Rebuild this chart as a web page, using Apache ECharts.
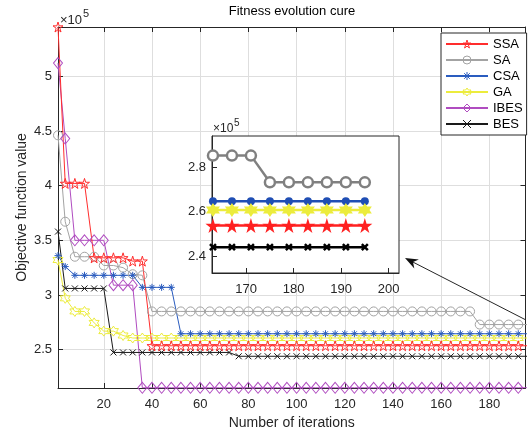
<!DOCTYPE html>
<html><head><meta charset="utf-8">
<script src="https://cdn.jsdelivr.net/npm/echarts@6/dist/echarts.min.js"></script>
<style>html,body{margin:0;padding:0;background:#fff}#c{width:530px;height:435px}</style>
</head><body><div id="c"></div>
<script>
// ---------- data (objective values in units of 1e5) ----------
const iterations = [1,4,8,12,16,20,24,28,32,36,
  40,44,48,52,56,60,64,68,72,76,
  80,84,88,92,96,100,104,108,112,116,
  120,124,128,132,136,140,144,148,152,156,
  160,164,168,172,176,180,184,188,192,196];
const ssa = [5.45,4.02,4.02,4.02,3.34,3.34,3.34,3.34,3.31,3.31,
  2.536,2.536,2.536,2.536,2.536,2.536,2.536,2.536,2.536,2.536,
  2.536,2.536,2.536,2.536,2.536,2.536,2.536,2.536,2.536,2.536,
  2.536,2.536,2.536,2.536,2.536,2.536,2.536,2.536,2.536,2.536,
  2.536,2.536,2.536,2.536,2.536,2.536,2.536,2.536,2.536,2.536];
const sa = [4.46,3.67,3.35,3.35,3.35,3.27,3.27,3.25,3.19,3.18,
  2.85,2.85,2.85,2.85,2.85,2.85,2.85,2.85,2.85,2.85,
  2.85,2.85,2.85,2.85,2.85,2.85,2.85,2.85,2.85,2.85,
  2.85,2.85,2.85,2.85,2.85,2.85,2.85,2.85,2.85,2.85,
  2.85,2.85,2.85,2.85,2.73,2.73,2.73,2.73,2.73,2.73];
const csa = [3.36,3.26,3.18,3.18,3.18,3.18,3.18,3.18,3.18,3.07,
  3.07,3.07,3.07,2.646,2.646,2.646,2.646,2.646,2.646,2.646,
  2.646,2.646,2.646,2.646,2.646,2.646,2.646,2.646,2.646,2.646,
  2.646,2.646,2.646,2.646,2.646,2.646,2.646,2.646,2.646,2.646,
  2.646,2.646,2.646,2.646,2.646,2.646,2.646,2.646,2.646,2.646];
const ga = [3.32,2.97,2.85,2.85,2.745,2.67,2.67,2.63,2.607,2.607,
  2.607,2.607,2.607,2.607,2.607,2.607,2.607,2.607,2.607,2.607,
  2.607,2.607,2.607,2.607,2.607,2.607,2.607,2.607,2.607,2.607,
  2.607,2.607,2.607,2.607,2.607,2.607,2.607,2.607,2.607,2.607,
  2.607,2.607,2.607,2.607,2.607,2.607,2.607,2.607,2.607,2.607];
const ibes = [5.12,4.43,3.50,3.50,3.50,3.50,3.09,3.09,3.09,2.152,
  2.152,2.152,2.152,2.152,2.152,2.152,2.152,2.152,2.152,2.152,
  2.152,2.152,2.152,2.152,2.152,2.152,2.152,2.152,2.152,2.152,
  2.152,2.152,2.152,2.152,2.152,2.152,2.152,2.152,2.152,2.152,
  2.152,2.152,2.152,2.152,2.152,2.152,2.152,2.152,2.152,2.152];
const bes = [3.58,3.06,3.06,3.06,3.06,3.06,2.475,2.475,2.475,2.475,
  2.475,2.475,2.475,2.475,2.475,2.475,2.475,2.475,2.475,2.44,
  2.44,2.44,2.44,2.44,2.44,2.44,2.44,2.44,2.44,2.44,
  2.44,2.44,2.44,2.44,2.44,2.44,2.44,2.44,2.44,2.44,
  2.44,2.44,2.44,2.44,2.44,2.44,2.44,2.44,2.44,2.44];

// inset (zoomed tail)
const zoomIterations = [163,167,171,175,179,183,187,191,195];
const zoomSA  = [2.851,2.851,2.851,2.731,2.731,2.731,2.731,2.731,2.731];
const zoomCSA = [2.646,2.646,2.646,2.646,2.646,2.646,2.646,2.646,2.646];
const zoomGA  = [2.607,2.607,2.607,2.607,2.607,2.607,2.607,2.607,2.607];
const zoomSSA = [2.537,2.537,2.537,2.537,2.537,2.537,2.537,2.537,2.537];
const zoomBES = [2.44,2.44,2.44,2.44,2.44,2.44,2.44,2.44,2.44];

const seriesNames = ['SSA','SA','CSA','GA','IBES','BES'];
const titleText = 'Fitness evolution cure';
const xName = 'Number of iterations';
const yName = 'Objective function value';

// ---------- styles ----------
const FONT = '"Liberation Sans", Arial, Helvetica, sans-serif';
const AX = '#262626';
const GRIDC = '#dedede';
const STAR = 'path://M50,0 L61,35 L98,35 L68,57 L79,91 L50,70 L21,91 L32,57 L2,35 L39,35 Z';
const HEX = 'path://M50,0 L64.43,25 L93.3,25 L78.87,50 L93.3,75 L64.43,75 L50,100 L35.57,75 L6.7,75 L21.13,50 L6.7,25 L35.57,25 Z';
const AST = 'path://M50,0 L50,100 M0,50 L100,50 M15,15 L85,85 M85,15 L15,85';
const XM = 'path://M0,0 L100,100 M100,0 L0,100';
const CLEAR = 'rgba(255,255,255,0)';

const pair = (xs, ys) => xs.map((x, i) => [x, ys[i]]);

function mainSeries(name, ys, color, symbol, size) {
  return {
    name, type: 'line', xAxisIndex: 0, yAxisIndex: 0,
    data: pair(iterations, ys), symbol, symbolSize: size,
    showAllSymbol: true, clip: true, z: 2,
    lineStyle: { color, width: 1 },
    itemStyle: { color: CLEAR, borderColor: color, borderWidth: 1 },
    emphasis: { disabled: true }
  };
}
function insetSeries(name, ys, color, symbol, size, fill, bw, lw) {
  return {
    name, type: 'line', xAxisIndex: 2, yAxisIndex: 2,
    data: pair(zoomIterations, ys), symbol, symbolSize: size,
    showAllSymbol: true, clip: false, z: 6,
    lineStyle: { color, width: lw },
    itemStyle: { color: fill, borderColor: color, borderWidth: bw },
    emphasis: { disabled: true }
  };
}

const labelStyle = { color: AX, fontSize: 13, fontFamily: FONT };
const axLine = { show: true, onZero: false, lineStyle: { color: AX, width: 1 } };
const tickIn = { show: true, inside: true, length: 5, lineStyle: { color: AX, width: 1 } };

const option = {
  animation: false,
  backgroundColor: '#fff',
  textStyle: { fontFamily: FONT },
  grid: [
    { left: 58, right: 4.5, top: 27, bottom: 46 },
    { left: 212, top: 136, width: 187, height: 137, show: true, backgroundColor: '#fff',
      borderColor: AX, borderWidth: 1, z: 4 }
  ],
  xAxis: [
    { type: 'value', gridIndex: 0, position: 'bottom', min: 1, max: 195, minInterval: 20, maxInterval: 20,
      axisLine: axLine, axisTick: tickIn,
      axisLabel: Object.assign({ margin: 10, showMinLabel: false, showMaxLabel: false }, labelStyle),
      splitLine: { show: true, lineStyle: { color: GRIDC, width: 1 } },
      name: xName, nameLocation: 'middle', nameGap: 28, nameMoveOverlap: false,
      nameTextStyle: { color: AX, fontSize: 14, fontFamily: FONT } },
    { type: 'value', gridIndex: 0, position: 'top', min: 1, max: 195, minInterval: 20, maxInterval: 20,
      axisLine: axLine, axisTick: tickIn, axisLabel: { show: false }, splitLine: { show: false } },
    { type: 'value', gridIndex: 1, position: 'bottom', min: 162.8, max: 202.2, minInterval: 10, maxInterval: 10,
      axisLine: axLine, axisTick: tickIn, z: 5,
      axisLabel: Object.assign({ margin: 10, showMinLabel: false, showMaxLabel: false }, labelStyle),
      splitLine: { show: false } }
  ],
  yAxis: [
    { type: 'value', gridIndex: 0, position: 'left', min: 2.15, max: 5.45, minInterval: 0.5, maxInterval: 0.5,
      axisLine: axLine, axisTick: tickIn,
      axisLabel: Object.assign({ margin: 6, showMinLabel: false, showMaxLabel: false }, labelStyle),
      splitLine: { show: true, lineStyle: { color: GRIDC, width: 1 } },
      name: yName, nameLocation: 'middle', nameGap: 29, nameMoveOverlap: false,
      nameTextStyle: { color: AX, fontSize: 14, fontFamily: FONT } },
    { type: 'value', gridIndex: 0, position: 'right', min: 2.15, max: 5.45, minInterval: 0.5, maxInterval: 0.5,
      axisLine: axLine, axisTick: tickIn, axisLabel: { show: false }, splitLine: { show: false } },
    { type: 'value', gridIndex: 1, position: 'left', min: 2.324, max: 2.939, minInterval: 0.2, maxInterval: 0.2,
      axisLine: axLine, axisTick: tickIn, z: 5,
      axisLabel: Object.assign({ margin: 6, showMinLabel: false, showMaxLabel: false }, labelStyle),
      splitLine: { show: false } }
  ],
  legend: {
    data: seriesNames, orient: 'vertical', left: 441, top: 33,
    padding: [3, 4, 3, 4], itemWidth: 42, itemHeight: 10, itemGap: 0,
    backgroundColor: '#fff', borderColor: AX, borderWidth: 1, borderRadius: 0,
    textStyle: { color: '#000', fontSize: 13, lineHeight: 16, fontFamily: FONT },
    itemStyle: { color: CLEAR, borderWidth: 1 }, z: 10
  },
  series: [
    mainSeries('SA', sa, '#a3a3a3', 'circle', 9),
    mainSeries('GA', ga, '#ecec3c', HEX, 10),
    mainSeries('CSA', csa, '#2a5cbf', AST, 7),
    mainSeries('IBES', ibes, '#b04cc0', 'diamond', [9, 11]),
    mainSeries('BES', bes, '#1a1a1a', XM, 6),
    mainSeries('SSA', ssa, '#ff2d2d', STAR, 10),
    insetSeries('SA-zoom', zoomSA, '#808080', 'circle', 10, '#fff', 2.5, 2.5),
    insetSeries('CSA-zoom', zoomCSA, '#1f4eb4', 'circle', 8, '#1f4eb4', 0, 2.5),
    insetSeries('GA-zoom', zoomGA, '#ecec3c', HEX, 14, '#ecec3c', 0, 2.5),
    insetSeries('SSA-zoom', zoomSSA, '#ff2020', STAR, 15, '#ff2020', 0, 2.5),
    insetSeries('BES-zoom', zoomBES, '#000000', XM, 6, CLEAR, 2.5, 2.5)
  ],
  graphic: [
    { type: 'text', z: 20, style: { text: titleText, x: 292, y: 11, align: 'center', verticalAlign: 'middle',
      font: '13px ' + FONT, fill: '#000' } },
    { type: 'text', z: 20, style: { text: '×10', x: 60, y: 20, align: 'left', verticalAlign: 'middle',
      font: '13px ' + FONT, fill: AX } },
    { type: 'text', z: 20, style: { text: '5', x: 83, y: 14, align: 'left', verticalAlign: 'middle',
      font: '11px ' + FONT, fill: AX } },
    { type: 'text', z: 20, style: { text: '×10', x: 213, y: 129, align: 'left', verticalAlign: 'middle',
      font: '12px ' + FONT, fill: AX } },
    { type: 'text', z: 20, style: { text: '5', x: 234, y: 123, align: 'left', verticalAlign: 'middle',
      font: '10px ' + FONT, fill: AX } },
    { type: 'line', z: 20, shape: { x1: 526, y1: 320, x2: 412, y2: 261.6 },
      style: { stroke: AX, lineWidth: 1 } },
    { type: 'polygon', z: 20, shape: { points: [[405, 258], [418.9, 259.5], [413, 262.1], [414.3, 268.4]] },
      style: { fill: '#111' } }
  ]
};

const chart = echarts.init(document.getElementById('c'), null, { renderer: 'canvas' });
chart.setOption(option);
</script></body></html>
